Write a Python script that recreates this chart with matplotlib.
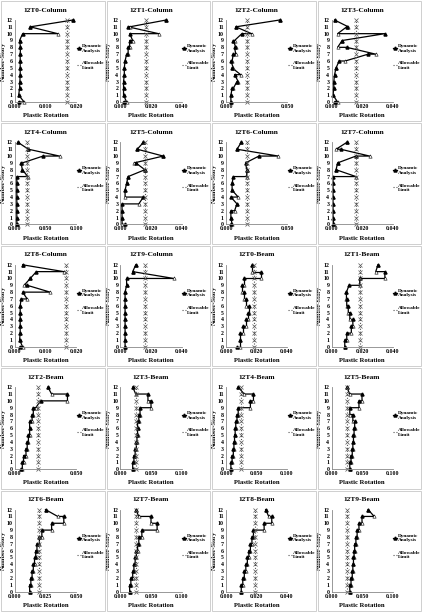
import matplotlib.pyplot as plt
from matplotlib.patches import Rectangle
from matplotlib.lines import Line2D

plt.rcParams['font.family'] = ['Liberation Serif', 'DejaVu Serif']

stories = list(range(13))  # story 0 .. 12

titles = ["12T0-Column", "12T1-Column", "12T2-Column", "12T3-Column",
          "12T4-Column", "12T5-Column", "12T6-Column", "12T7-Column",
          "12T8-Column", "12T9-Column", "12T0-Beam", "12T1-Beam",
          "12T2-Beam", "12T3-Beam", "12T4-Beam", "12T5-Beam",
          "12T6-Beam", "12T7-Beam", "12T8-Beam", "12T9-Beam"]

x_max = [0.02, 0.04, 0.05, 0.04, 0.1, 0.04, 0.05, 0.04, 0.02, 0.04,
         0.04, 0.04, 0.05, 0.1, 0.1, 0.1, 0.05, 0.1, 0.04, 0.1]
x_step = [0.01, 0.02, 0.05, 0.02, 0.05, 0.02, 0.05, 0.02, 0.01, 0.02,
          0.02, 0.02, 0.05, 0.05, 0.05, 0.05, 0.025, 0.05, 0.02, 0.05]

allow_limit = [0.017, 0.0165, 0.017, 0.016, 0.019, 0.016, 0.017, 0.016, 0.0166, 0.016,
               0.0185, 0.019, 0.0185, 0.025, 0.025, 0.025, 0.02, 0.025, 0.019, 0.025]

# first point of every story along the path (open triangle), story 0..12
first_pts = [
    [0.003, 0.0012, 0.0015, 0.0016, 0.0017, 0.0017, 0.0017, 0.0017, 0.0018, 0.0015, 0.014, 0.005, 0.019],
    [0.004, 0.002, 0.002, 0.002, 0.0025, 0.0025, 0.003, 0.005, 0.006, 0.008, 0.025, 0.006, 0.030],
    [0.004, 0.004, 0.006, 0.010, 0.012, 0.006, 0.005, 0.008, 0.008, 0.007, 0.021, 0.008, 0.044],
    [0.004, 0.001, 0.0015, 0.0015, 0.002, 0.003, 0.009, 0.029, 0.004, 0.007, 0.004, 0.011, 0.002],
    [0.003, 0.003, 0.003, 0.003, 0.003, 0.003, 0.003, 0.021, 0.012, 0.012, 0.073, 0.022, 0.005],
    [0.001, 0.001, 0.001, 0.012, 0.003, 0.003, 0.004, 0.005, 0.016, 0.009, 0.028, 0.011, 0.015],
    [0.005, 0.004, 0.007, 0.009, 0.010, 0.005, 0.005, 0.017, 0.017, 0.016, 0.043, 0.009, 0.0125],
    [0.0015, 0.001, 0.001, 0.001, 0.001, 0.001, 0.001, 0.016, 0.003, 0.004, 0.025, 0.003, 0.010],
    [0.0025, 0.0015, 0.0017, 0.0017, 0.0017, 0.0017, 0.0017, 0.004, 0.0115, 0.003, 0.005, 0.016, 0.0025],
    [0.003, 0.003, 0.003, 0.003, 0.003, 0.003, 0.003, 0.003, 0.003, 0.004, 0.035, 0.008, 0.010],
    [0.009, 0.009, 0.011, 0.013, 0.0145, 0.015, 0.013, 0.012, 0.0105, 0.012, 0.023, 0.017, 0.017],
    [0.0087, 0.010, 0.013, 0.014, 0.012, 0.011, 0.010, 0.0098, 0.0098, 0.0185, 0.035, 0.029, 0.0305],
    [0.006, 0.007, 0.009, 0.010, 0.011, 0.012, 0.012, 0.014, 0.015, 0.017, 0.043, 0.030, 0.027],
    [0.020, 0.022, 0.024, 0.026, 0.027, 0.028, 0.028, 0.030, 0.032, 0.050, 0.045, 0.025, 0.020],
    [0.008, 0.010, 0.012, 0.013, 0.014, 0.015, 0.016, 0.018, 0.020, 0.040, 0.045, 0.030, 0.020],
    [0.030, 0.032, 0.034, 0.035, 0.036, 0.037, 0.038, 0.035, 0.030, 0.045, 0.050, 0.030, 0.025],
    [0.012, 0.013, 0.014, 0.015, 0.016, 0.017, 0.018, 0.020, 0.022, 0.030, 0.040, 0.035, 0.025],
    [0.015, 0.017, 0.020, 0.022, 0.024, 0.026, 0.028, 0.030, 0.035, 0.060, 0.050, 0.030, 0.025],
    [0.010, 0.011, 0.012, 0.013, 0.014, 0.015, 0.016, 0.017, 0.018, 0.025, 0.030, 0.028, 0.026],
    [0.030, 0.032, 0.034, 0.035, 0.036, 0.037, 0.038, 0.040, 0.042, 0.045, 0.050, 0.070, 0.060],
]

# second point of every story along the path (filled triangle)
second_pts = [
    [0.0012, 0.0012, 0.0015, 0.0016, 0.0017, 0.0017, 0.0017, 0.0017, 0.0018, 0.0015, 0.0025, 0.005, 0.019],
    [0.002, 0.002, 0.002, 0.002, 0.0025, 0.0025, 0.003, 0.004, 0.005, 0.006, 0.006, 0.005, 0.030],
    [0.004, 0.004, 0.005, 0.009, 0.007, 0.005, 0.004, 0.006, 0.007, 0.006, 0.013, 0.008, 0.044],
    [0.002, 0.001, 0.0015, 0.0015, 0.002, 0.003, 0.005, 0.024, 0.010, 0.007, 0.035, 0.010, 0.002],
    [0.003, 0.003, 0.003, 0.003, 0.003, 0.003, 0.003, 0.003, 0.012, 0.010, 0.046, 0.022, 0.005],
    [0.003, 0.001, 0.001, 0.001, 0.015, 0.003, 0.004, 0.005, 0.016, 0.010, 0.028, 0.011, 0.015],
    [0.004, 0.004, 0.004, 0.009, 0.004, 0.005, 0.005, 0.006, 0.017, 0.016, 0.027, 0.009, 0.0125],
    [0.001, 0.001, 0.001, 0.001, 0.001, 0.001, 0.001, 0.001, 0.003, 0.004, 0.016, 0.006, 0.010],
    [0.0017, 0.0015, 0.0017, 0.0017, 0.0017, 0.0017, 0.0017, 0.002, 0.0025, 0.004, 0.005, 0.007, 0.0025],
    [0.003, 0.003, 0.003, 0.003, 0.003, 0.003, 0.003, 0.003, 0.003, 0.004, 0.004, 0.008, 0.010],
    [0.007, 0.009, 0.009, 0.011, 0.013, 0.0145, 0.015, 0.013, 0.012, 0.0105, 0.012, 0.023, 0.017],
    [0.0087, 0.0087, 0.010, 0.013, 0.014, 0.012, 0.011, 0.010, 0.0098, 0.0115, 0.0185, 0.035, 0.0305],
    [0.005, 0.006, 0.007, 0.009, 0.010, 0.011, 0.012, 0.012, 0.014, 0.015, 0.021, 0.043, 0.027],
    [0.020, 0.020, 0.022, 0.024, 0.026, 0.027, 0.028, 0.028, 0.030, 0.032, 0.050, 0.045, 0.020],
    [0.008, 0.008, 0.010, 0.012, 0.013, 0.014, 0.015, 0.016, 0.018, 0.020, 0.040, 0.045, 0.020],
    [0.030, 0.030, 0.032, 0.034, 0.035, 0.036, 0.037, 0.038, 0.035, 0.030, 0.045, 0.050, 0.025],
    [0.012, 0.012, 0.013, 0.014, 0.015, 0.016, 0.017, 0.018, 0.020, 0.022, 0.030, 0.040, 0.025],
    [0.015, 0.015, 0.017, 0.020, 0.022, 0.024, 0.026, 0.028, 0.030, 0.035, 0.060, 0.050, 0.025],
    [0.010, 0.010, 0.011, 0.012, 0.013, 0.014, 0.015, 0.016, 0.017, 0.018, 0.025, 0.030, 0.026],
    [0.030, 0.030, 0.032, 0.034, 0.035, 0.036, 0.037, 0.038, 0.040, 0.042, 0.045, 0.050, 0.060],
]

W, H = 422, 612
fig = plt.figure(figsize=(W / 100, H / 100), dpi=100)
cw, ch = W / 4, H / 5

for k in range(20):
    r, c = divmod(k, 4)
    x0, y0 = c * cw, r * ch
    # panel frame
    fig.patches.append(Rectangle(((x0 + 1) / W, 1 - (y0 + ch - 1) / H), (cw - 2) / W, (ch - 2) / H,
                                 transform=fig.transFigure, fill=False, ec='#c8c8c8', lw=0.6))
    ax = fig.add_axes([(x0 + 15) / W, 1 - (y0 + 102) / H, 61 / W, 82 / H])

    xs, ys = [], []
    for s in range(12, -1, -1):
        xs += [first_pts[k][s], second_pts[k][s]]
        ys += [s, s]
    ax.plot(xs, ys, color='black', lw=0.9, clip_on=False)
    ax.plot(first_pts[k], stories, '^', mfc='white', mec='black', mew=0.4, ms=2.4, clip_on=False)
    ax.plot(second_pts[k], stories, '^', color='black', ms=2.2, clip_on=False)
    ax.plot([allow_limit[k]] * 13, stories, ':', color='#555555', lw=0.8,
            marker='x', ms=2.2, mew=0.5, clip_on=False)

    ax.set_xlim(0, x_max[k])
    ax.set_ylim(0, 12)
    n = int(round(x_max[k] / x_step[k]))
    ticks = [i * x_step[k] for i in range(n + 1)]
    ax.set_xticks(ticks)
    ax.set_xticklabels(['%.3f' % t for t in ticks])
    ax.set_yticks(stories)
    ax.tick_params(labelsize=4.2, length=0, pad=1.5)
    for lab in ax.get_xticklabels() + ax.get_yticklabels():
        lab.set_fontweight('bold')
    for sp in ['top', 'right']:
        ax.spines[sp].set_visible(False)
    for sp in ['left', 'bottom']:
        ax.spines[sp].set_color('#888888')
        ax.spines[sp].set_linewidth(0.6)
    ax.set_xlabel('Plastic Rotation', fontsize=4.8, fontweight='bold', labelpad=3)
    ax.set_ylabel('Number-Story', fontsize=4.6, fontweight='bold', labelpad=1)
    ax.set_title(titles[k], fontsize=5.3, fontweight='bold', pad=6)

    handles = [Line2D([], [], color='black', lw=0.9, marker='^', ms=2.2),
               Line2D([], [], color='#555555', lw=0.8, ls=':')]
    ax.legend(handles, ['Dynamic\nAnalysis', 'Allowable\nLimit'], loc='center left',
              bbox_to_anchor=(1.0, 0.55), frameon=False, handlelength=0.8,
              handletextpad=0.2, labelspacing=1.6, borderaxespad=0.05, borderpad=0.05,
              prop={'size': 3.8, 'weight': 'bold'})

fig.savefig('out.png', dpi=100)
